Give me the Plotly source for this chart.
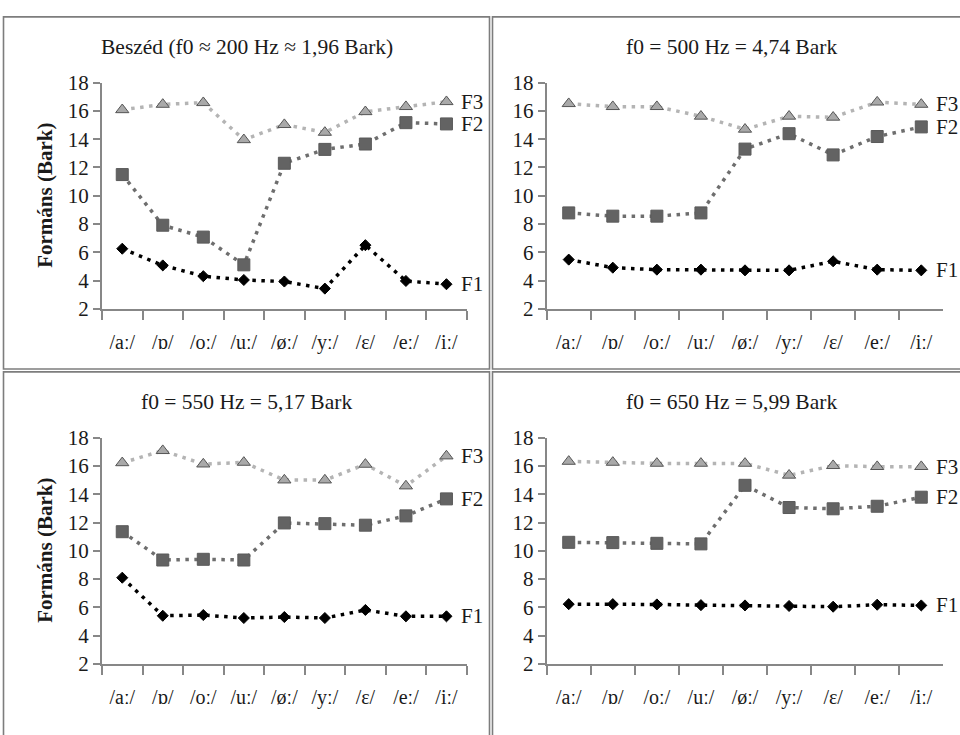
import plotly.graph_objects as go

# Vowel categories along the x axis
vowels = ["/aː/", "/ɒ/", "/oː/", "/uː/", "/øː/", "/yː/", "/ɛ/", "/eː/", "/iː/"]

panel_titles = [
    "Beszéd (f0 ≈ 200 Hz ≈ 1,96 Bark)",
    "f0 = 500 Hz = 4,74 Bark",
    "f0 = 550 Hz = 5,17 Bark",
    "f0 = 650 Hz = 5,99 Bark",
]

y_ticks = [2, 4, 6, 8, 10, 12, 14, 16, 18]
y_title = "Formáns (Bark)"
formant_names = ["F1", "F2", "F3"]

# Formant values (Bark) per vowel
speech_f1 = [6.26, 5.08, 4.32, 4.05, 3.94, 3.44, 6.51, 3.98, 3.75]
speech_f2 = [11.5, 7.92, 7.08, 5.12, 12.3, 13.28, 13.66, 15.17, 15.08]
speech_f3 = [16.08, 16.46, 16.58, 13.96, 15.03, 14.48, 15.94, 16.3, 16.65]

f0_500_f1 = [5.49, 4.92, 4.78, 4.78, 4.73, 4.73, 5.37, 4.78, 4.73]
f0_500_f2 = [8.79, 8.56, 8.56, 8.79, 13.3, 14.39, 12.89, 14.19, 14.87]
f0_500_f3 = [16.51, 16.3, 16.3, 15.62, 14.7, 15.62, 15.55, 16.62, 16.46]

f0_550_f1 = [8.1, 5.41, 5.46, 5.25, 5.32, 5.25, 5.82, 5.37, 5.37]
f0_550_f2 = [11.35, 9.35, 9.4, 9.35, 11.97, 11.92, 11.81, 12.47, 13.67]
f0_550_f3 = [16.22, 17.08, 16.13, 16.25, 15.0, 15.0, 16.11, 14.58, 16.7]

f0_650_f1 = [6.23, 6.23, 6.21, 6.16, 6.14, 6.1, 6.05, 6.19, 6.14]
f0_650_f2 = [10.6, 10.58, 10.53, 10.49, 14.63, 13.06, 12.97, 13.15, 13.79]
f0_650_f3 = [16.32, 16.25, 16.18, 16.18, 16.18, 15.34, 16.02, 15.95, 15.95]

panels_data = [
    [speech_f1, speech_f2, speech_f3],
    [f0_500_f1, f0_500_f2, f0_500_f3],
    [f0_550_f1, f0_550_f2, f0_550_f3],
    [f0_650_f1, f0_650_f2, f0_650_f3],
]

W, H = 960, 735
SERIF = "Liberation Serif, Times New Roman, serif"
AXIS_GREY = "#878787"
TEXT = "#1a1a1a"

# Series styling: line colour, marker symbol, size, fill, outline
styles = [
    dict(line="#000000", symbol="diamond", size=8.5, fill="#000000", edge="#000000"),
    dict(line="#6e6e6e", symbol="square", size=12, fill="#636363", edge="#5a5a5a"),
    dict(line="#b4b4b4", symbol="triangle-up", size=11.5, fill="#a9a9a9", edge="#555555"),
]

# Plot-area pixel boxes (left, right, top, bottom) for each panel
boxes = [
    (102, 466.7, 73, 307),
    (546.7, 943.3, 73, 307),
    (102, 466.7, 440, 674),
    (546.7, 943.3, 440, 674),
]
# Outer frame of each panel (left, right, top, bottom) in pixels
frames = [
    (3.5, 489.5, 5, 369),
    (492.5, 985, 5, 369),
    (3.5, 489.5, 372, 760),
    (492.5, 985, 372, 760),
]


def px_x(v):
    return v / W


def px_y(v):
    return 1 - v / H


fig = go.Figure()
annotations = []
shapes = []

for i, (series, box, frame, title) in enumerate(zip(panels_data, boxes, frames, panel_titles)):
    n = "" if i == 0 else str(i + 1)
    xa, ya = "x" + n, "y" + n
    left, right, top, bottom = box

    for vals, st, name in zip(series, styles, formant_names):
        fig.add_trace(go.Scatter(
            x=vowels, y=vals, xaxis=xa, yaxis=ya, mode="lines+markers",
            name=name, showlegend=False,
            line=dict(color=st["line"], width=3.5, dash="3.5px,5.5px"),
            marker=dict(symbol=st["symbol"], size=st["size"], color=st["fill"],
                        line=dict(color=st["edge"], width=1)),
            cliponaxis=False,
        ))
        annotations.append(dict(
            x=vowels[-1], y=vals[-1], xref=xa, yref=ya, text=name,
            showarrow=False, xanchor="left", yanchor="middle", xshift=13,
            font=dict(family=SERIF, size=21, color=TEXT),
        ))

    fig.layout["xaxis" + n] = dict(
        domain=[px_x(left), px_x(right)], anchor=ya,
        type="category", categoryorder="array", categoryarray=vowels,
        range=[-0.5, len(vowels) - 0.5], tickson="boundaries",
        ticks="outside", ticklen=9, tickwidth=2, tickcolor=AXIS_GREY,
        showline=True, linecolor=AXIS_GREY, linewidth=2,
        showgrid=False, zeroline=False, ticklabelstandoff=14,
        tickfont=dict(family=SERIF, size=20, color=TEXT),
    )
    fig.layout["yaxis" + n] = dict(
        domain=[px_y(bottom), px_y(top)], anchor=xa,
        range=[2, 18], tickvals=y_ticks,
        ticks="outside", ticklen=7, tickwidth=2, tickcolor=AXIS_GREY,
        showline=True, linecolor=AXIS_GREY, linewidth=2,
        showgrid=False, zeroline=False,
        tickfont=dict(family=SERIF, size=21, color=TEXT),
    )

    fl, fr, ft, fb = frame
    shapes.append(dict(
        type="rect", xref="paper", yref="paper",
        x0=px_x(fl), x1=px_x(fr), y0=px_y(fb), y1=px_y(ft),
        line=dict(color="#7d7d7d", width=1.6), fillcolor="rgba(0,0,0,0)", layer="below",
    ))

    annotations.append(dict(
        x=px_x((fl + min(fr, 970)) / 2), y=px_y(ft + 31), xref="paper", yref="paper",
        text=title, showarrow=False, xanchor="center", yanchor="middle",
        font=dict(family=SERIF, size=21.5, color=TEXT),
    ))
    if i % 2 == 0:
        annotations.append(dict(
            x=px_x(45), y=px_y((top + bottom) / 2), xref="paper", yref="paper",
            text="<b>" + y_title + "</b>", textangle=-90, showarrow=False,
            xanchor="center", yanchor="middle",
            font=dict(family=SERIF, size=21, color=TEXT),
        ))

fig.update_layout(
    width=W, height=H, margin=dict(l=0, r=0, t=0, b=0),
    paper_bgcolor="white", plot_bgcolor="white",
    annotations=annotations, shapes=shapes, showlegend=False,
)

fig.write_html("out.html")
